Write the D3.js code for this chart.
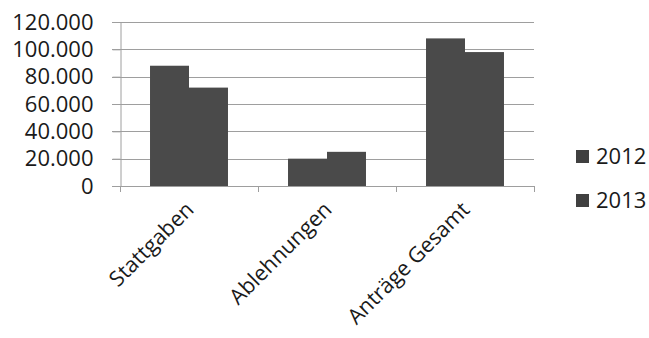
<!DOCTYPE html>
<html><head><meta charset="utf-8">
<script src="https://cdn.jsdelivr.net/npm/d3@7"></script>
<style>
html,body{margin:0;padding:0;background:#fff;}
svg{display:block;font-family:"Open Sans",sans-serif;}
</style></head>
<body><svg id="c" width="649" height="338"></svg>
<script>
const categories = ["Stattgaben", "Ablehnungen", "Anträge Gesamt"];
const series = ["2012", "2013"];
const values2012 = [88000, 20000, 108000];
const values2013 = [72000, 25000, 98000];
const yTicks = [0, 20000, 40000, 60000, 80000, 100000, 120000];

const svg = d3.select("#c");
const mLeft = 120, mRight = 534, mTop = 22, mBottom = 186;
const barColor = "#4a4a4a";
const gridColor = "#9e9e9e";
const textColor = "#1a1a1a";

const de = d3.formatLocale({decimal: ",", thousands: ".", grouping: [3], currency: ["", " €"]});
const fmt = de.format(",");

const x0 = d3.scaleBand().domain(categories).range([mLeft, mRight]).paddingInner(0).paddingOuter(0);
const x1 = d3.scaleBand().domain(series).range([0, x0.bandwidth()]).paddingInner(0).paddingOuter(0.77);
const y = d3.scaleLinear().domain([0, 120000]).range([mBottom, mTop]);

// gridlines
svg.append("g").selectAll("line").data(yTicks.filter(d => d > 0)).join("line")
  .attr("x1", mLeft - 8).attr("x2", mRight)
  .attr("y1", d => Math.round(y(d)) + 0.5).attr("y2", d => Math.round(y(d)) + 0.5)
  .attr("stroke", gridColor).attr("stroke-width", 1);

// bars
const data = categories.map((c, i) => ({c, vals: [{s: "2012", v: values2012[i]}, {s: "2013", v: values2013[i]}]}));
svg.append("g").selectAll("g").data(data).join("g")
  .attr("transform", d => `translate(${x0(d.c)},0)`)
  .selectAll("rect").data(d => d.vals).join("rect")
  .attr("x", d => x1(d.s)).attr("width", x1.bandwidth())
  .attr("y", d => y(d.v)).attr("height", d => y(0) - y(d.v))
  .attr("fill", barColor);

// y axis
const yAxis = d3.axisLeft(y).tickValues(yTicks).tickFormat(fmt).tickSize(8).tickPadding(19);
const gy = svg.append("g").attr("transform", `translate(${mLeft + 0.5},0)`).call(yAxis);
gy.select(".domain").attr("stroke", gridColor);
gy.selectAll(".tick line").attr("stroke", gridColor);
gy.selectAll(".tick text").attr("font-size", 22).attr("fill", textColor).attr("font-family", "Open Sans");

// x axis
const xTickPos = [mLeft, ...categories.map(c => x0(c) + x0.bandwidth())];
svg.append("line").attr("x1", mLeft - 8).attr("x2", mRight).attr("y1", mBottom + 0.5).attr("y2", mBottom + 0.5)
  .attr("stroke", gridColor);
svg.append("g").selectAll("line").data(xTickPos).join("line")
  .attr("x1", d => Math.round(d) + 0.5).attr("x2", d => Math.round(d) + 0.5)
  .attr("y1", mBottom).attr("y2", mBottom + 6).attr("stroke", gridColor);

svg.append("g").selectAll("text").data(categories).join("text")
  .attr("transform", d => `translate(${x0(d) + x0.bandwidth() / 2 + 6},${mBottom + 25}) rotate(-45)`)
  .attr("text-anchor", "end").attr("font-size", 21.5).attr("fill", textColor)
  .text(d => d);

// legend
const lg = svg.append("g").selectAll("g").data(series).join("g")
  .attr("transform", (d, i) => `translate(576,${164 + i * 44})`);
lg.append("rect").attr("x", 0).attr("y", -14).attr("width", 13).attr("height", 13).attr("fill", "#404040");
lg.append("text").attr("x", 20).attr("y", 0).attr("font-size", 22).attr("fill", textColor).text(d => d);
</script></body></html>
